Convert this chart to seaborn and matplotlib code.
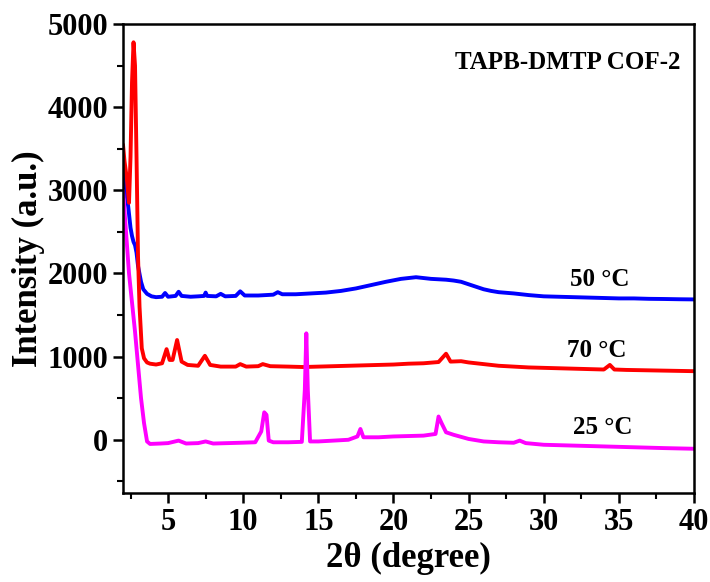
import numpy as np
import pandas as pd
import matplotlib
matplotlib.use("Agg")
import matplotlib.pyplot as plt
from matplotlib.ticker import MultipleLocator
import seaborn as sns

# 50 °C (blue)
x_50 = [2.0, 2.2, 2.35, 2.5, 2.6, 2.7, 2.8, 2.9, 3.0, 3.2, 3.35, 3.6, 3.9, 4.2, 4.6, 4.8, 5.0,
        5.5, 5.7, 5.9, 6.5, 7.0, 7.4, 7.5, 7.6, 8.2, 8.5, 8.8, 9.5, 9.8, 10.1, 11.0, 12.0, 12.3,
        12.6, 13.5, 14.5, 15.5, 16.5, 17.5, 18.5, 19.5, 20.5, 21.0, 21.5, 22.0, 22.5, 23.0, 23.5,
        24.0, 24.5, 25.0, 25.5, 26.0, 26.5, 27.0, 28.0, 29.0, 30.0, 31.0, 32.0, 33.0, 34.0, 35.0,
        36.0, 37.0, 38.0, 39.0, 40.0]
y_50 = [3250, 3000, 2800, 2550, 2450, 2380, 2340, 2250, 2090, 1900, 1810, 1755, 1725, 1715, 1720,
        1765, 1720, 1730, 1780, 1730, 1720, 1725, 1730, 1770, 1730, 1725, 1755, 1725, 1730, 1785,
        1735, 1735, 1745, 1775, 1750, 1750, 1760, 1770, 1790, 1820, 1860, 1900, 1935, 1945, 1955,
        1945, 1935, 1930, 1925, 1915, 1900, 1870, 1840, 1810, 1790, 1775, 1760, 1740, 1725, 1720,
        1715, 1710, 1705, 1700, 1700, 1695, 1693, 1690, 1688]

# 70 °C (red)
x_70 = [2.0, 2.1, 2.25, 2.4, 2.5, 2.6, 2.7, 2.8, 2.9, 3.0, 3.1, 3.25, 3.4, 3.6, 3.8, 4.2, 4.6,
        4.9, 5.1, 5.3, 5.6, 5.9, 6.3, 7.0, 7.45, 7.8, 8.5, 9.5, 9.8, 10.2, 11.0, 11.3, 11.8, 13.0,
        14.0, 15.0, 16.0, 17.0, 18.0, 19.0, 20.0, 21.0, 22.0, 23.0, 23.5, 23.8, 24.5, 25.0, 26.0,
        27.0, 28.0, 29.0, 30.0, 31.0, 32.0, 33.0, 34.0, 34.4, 34.7, 35.5, 37.0, 38.5, 40.0]
y_70 = [3550, 3350, 3150, 2850, 3400, 4300, 4780, 4500, 3400, 2200, 1600, 1100, 980, 930, 915,
        905, 920, 1090, 960, 960, 1200, 940, 900, 890, 1010, 900, 880, 880, 910, 880, 885, 910,
        885, 880, 875, 880, 885, 890, 895, 900, 905, 915, 920, 935, 1035, 940, 945, 930, 910, 890,
        880, 870, 865, 860, 855, 850, 845, 900, 845, 840, 835, 830, 825]

# 25 °C (magenta)
x_25 = [2.0, 2.2, 2.4, 2.6, 2.8, 3.0, 3.2, 3.4, 3.6, 3.8, 4.5, 5.0, 5.7, 6.2, 7.0, 7.5, 8.0, 9.0,
        10.0, 10.8, 11.2, 11.4, 11.55, 11.7, 12.0, 13.0, 13.9, 14.1, 14.2, 14.3, 14.45, 15.0, 16.0,
        17.0, 17.6, 17.8, 18.0, 19.0, 20.0, 21.0, 22.0, 22.8, 23.0, 23.2, 23.5, 24.0, 25.0, 26.0,
        27.0, 28.0, 28.4, 28.8, 30.0, 32.0, 34.0, 36.0, 38.0, 40.0]
y_25 = [3000, 2500, 2000, 1650, 1300, 900, 500, 200, -20, -50, -45, -40, -10, -45, -40, -20, -45,
        -40, -35, -30, 100, 330, 300, -10, -30, -30, -25, 600, 1280, 600, -20, -20, -10, 0, 40, 130,
        30, 30, 40, 45, 50, 70, 280, 200, 90, 60, 10, -20, -30, -36, -10, -40, -60, -70, -80, -90,
        -100, -108]

series = [
    (x_50, y_50, "#0000ff"),
    (x_70, y_70, "#ff0000"),
    (x_25, y_25, "#ff00ff"),
]

sns.set_style("ticks")
plt.rcParams["font.family"] = ["Liberation Serif", "DejaVu Serif"]
plt.rcParams["font.weight"] = "bold"
plt.rcParams["text.color"] = "black"
plt.rcParams["axes.labelcolor"] = "black"
plt.rcParams["xtick.color"] = "black"
plt.rcParams["ytick.color"] = "black"

fig = plt.figure(figsize=(7.1, 5.82), dpi=100)
ax = fig.add_axes([123 / 710, 1 - 493 / 582, (694 - 123) / 710, (493 - 24) / 582])

for xs, ys, c in series:
    df = pd.DataFrame({"x": xs, "y": ys})
    sns.lineplot(data=df, x="x", y="y", color=c, linewidth=2.8, ax=ax, sort=False)

ax.set_xlim(2, 40)
ax.set_ylim(-640, 5000)
ax.xaxis.set_major_locator(MultipleLocator(5))
ax.xaxis.set_minor_locator(MultipleLocator(2.5))
ax.yaxis.set_major_locator(MultipleLocator(1000))
ax.yaxis.set_minor_locator(MultipleLocator(500))
ax.set_xticks([5, 10, 15, 20, 25, 30, 35, 40])
ax.set_yticks([0, 1000, 2000, 3000, 4000, 5000])

ax.tick_params(which="major", direction="out", length=7, width=1.8, labelsize=22,
               colors="black")
ax.tick_params(which="minor", direction="out", length=4, width=1.5, colors="black")
ax.tick_params(top=False, right=False, which="both")
for s in ax.spines.values():
    s.set_linewidth(1.8)
    s.set_color("black")

ax.set_xlabel("2θ (degree)", fontsize=25, fontweight="bold", labelpad=4, color="black")
ax.set_ylabel("Intensity (a.u.)", fontsize=25, fontweight="bold", labelpad=2, color="black")

ax.text(33.7, 1930, "50 °C", fontsize=18, fontweight="bold", ha="center", va="center")
ax.text(33.5, 1072, "70 °C", fontsize=18, fontweight="bold", ha="center", va="center")
ax.text(33.9, 145, "25 °C", fontsize=18, fontweight="bold", ha="center", va="center")
ax.text(31.6, 4540, "TAPB-DMTP COF-2", fontsize=18, fontweight="bold", ha="center", va="center")

fig.savefig("out.png", dpi=100)
